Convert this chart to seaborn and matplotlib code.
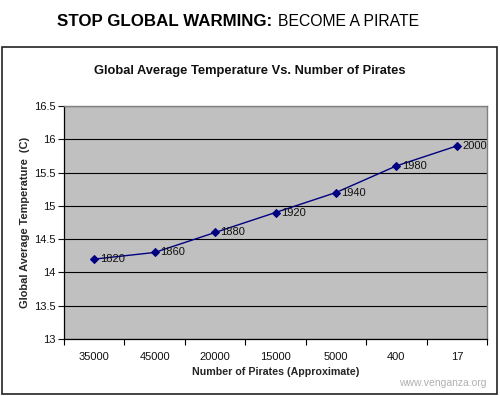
import matplotlib
matplotlib.use("Agg")
import matplotlib.pyplot as plt
import seaborn as sns
import pandas as pd
from matplotlib.patches import Rectangle

pirates = ["35000", "45000", "20000", "15000", "5000", "400", "17"]
temperature = [14.2, 14.3, 14.6, 14.9, 15.2, 15.6, 15.9]
years = ["1820", "1860", "1880", "1920", "1940", "1980", "2000"]
y_ticks = [13, 13.5, 14, 14.5, 15, 15.5, 16, 16.5]
y_tick_labels = ["13", "13.5", "14", "14.5", "15", "15.5", "16", "16.5"]

df = pd.DataFrame({"pirates": pirates, "temp": temperature, "year": years})

sns.set_theme(style="white")
plt.rcParams["font.family"] = ["Liberation Sans", "DejaVu Sans"]

fig = plt.figure(figsize=(5, 3.96), dpi=100)
fig.patch.set_facecolor("white")

# outer chart border
fig.add_artist(Rectangle((2 / 500, 2 / 396), 495 / 500, 347 / 396,
                         transform=fig.transFigure, fill=False,
                         edgecolor="#222222", linewidth=1.2))

ax = fig.add_axes([64 / 500, 1 - 339 / 396, 423 / 500, 233 / 396])
ax.set_facecolor("#C0C0C0")

df["pos"] = range(len(df))
sns.lineplot(data=df, x="pos", y="temp", ax=ax, color="#000080",
             marker="D", markersize=4.5, markeredgecolor="#000080",
             linewidth=1.0, sort=False)

for i, (t, yr) in enumerate(zip(temperature, years)):
    ax.text(i + 0.09, t, yr, fontsize=8, va="center", ha="left", color="#111111")

ax.set_xlim(-0.5, len(pirates) - 0.5)
ax.set_ylim(13, 16.5)
ax.set_yticks(y_ticks)
ax.set_yticklabels(y_tick_labels, fontsize=8)
ax.set_xticks(range(len(pirates)))
ax.set_xticklabels(pirates, fontsize=8)
ax.set_xticks([k - 0.5 for k in range(len(pirates) + 1)], minor=True)
ax.tick_params(axis="x", which="major", length=0, pad=9, colors="#111111")
ax.tick_params(axis="x", which="minor", length=4, width=0.8, direction="out",
               color="black", bottom=True)
ax.tick_params(axis="y", length=4, width=0.8, direction="out", left=True,
               colors="#111111", pad=2)

ax.yaxis.grid(True, color="black", linewidth=0.8)
ax.xaxis.grid(False)
ax.set_axisbelow(True)
for side in ["top", "right"]:
    ax.spines[side].set_color("#808080")
    ax.spines[side].set_linewidth(1)
for side in ["left", "bottom"]:
    ax.spines[side].set_color("black")
    ax.spines[side].set_linewidth(0.9)

ax.set_xlabel("Number of Pirates (Approximate)", fontsize=7.7, fontweight="bold",
              labelpad=4)
ax.set_ylabel("Global Average Temperature  (C)", fontsize=7.9, fontweight="bold",
              labelpad=3)

fig.text(250 / 500, 1 - 71 / 396, "Global Average Temperature Vs. Number of Pirates",
         ha="center", va="center", fontsize=9.3, fontweight="bold", color="#111111")

fig.text(272 / 500, 1 - 21 / 396, "STOP GLOBAL WARMING:", ha="right", va="center",
         fontsize=12.2, fontweight="heavy", color="black")
fig.text(278 / 500, 1 - 21 / 396, "BECOME A PIRATE", ha="left", va="center",
         fontsize=11.3, color="black")

fig.text(487 / 500, 1 - 383 / 396, "www.venganza.org", ha="right", va="center",
         fontsize=7.5, color="#B0B0B0")

fig.savefig("out.png", dpi=100)
